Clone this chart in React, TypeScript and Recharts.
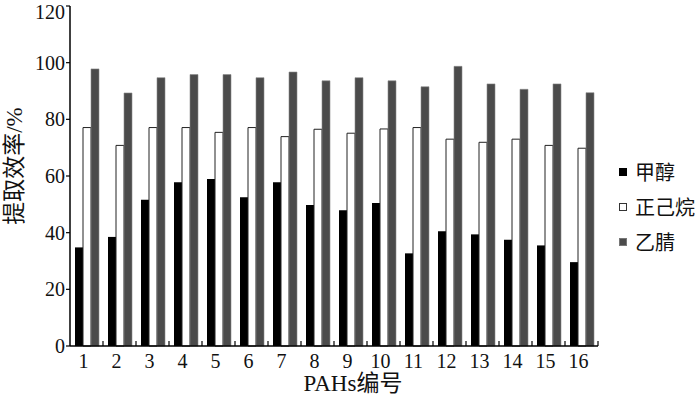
import { BarChart, Bar, XAxis, YAxis, Label } from 'recharts'

const pahs = ['1', '2', '3', '4', '5', '6', '7', '8', '9', '10', '11', '12', '13', '14', '15', '16']
const seriesNames = ['甲醇', '正己烷', '乙腈']
const methanol = [34.8, 38.5, 51.6, 57.8, 58.9, 52.5, 57.8, 49.8, 47.9, 50.5, 32.7, 40.5, 39.4, 37.5, 35.5, 29.6]
const hexane = [77.1, 70.8, 77.1, 77.1, 75.4, 77.1, 73.9, 76.5, 75.1, 76.6, 77.1, 73.0, 71.9, 73.0, 70.8, 69.8]
const acetonitrile = [97.8, 89.3, 94.7, 95.8, 95.8, 94.7, 96.7, 93.6, 94.7, 93.6, 91.5, 98.7, 92.5, 90.6, 92.5, 89.4]
const yTicks = [0, 20, 40, 60, 80, 100, 120]

const data = pahs.map((name, i) => ({
  name,
  methanol: methanol[i],
  hexane: hexane[i],
  acetonitrile: acetonitrile[i],
}))

const FONT = '"Liberation Serif", "Noto Sans CJK SC", serif'

const series = [
  { key: 'methanol', fill: '#000', stroke: '#000' },
  { key: 'hexane', fill: '#fff', stroke: '#333' },
  { key: 'acetonitrile', fill: '#4b4b4b', stroke: '#777' },
]

// category label plus a short inward tick at the right edge of each category
function CategoryTick(props: any) {
  const { x, y, payload, width } = props
  const band = width / pahs.length
  return (
    <g>
      <line x1={x + band / 2} x2={x + band / 2} y1={y} y2={y - 5} stroke="#000" strokeWidth={1.2} />
      <text x={x - 3} y={y} dy={22} textAnchor="middle" fontSize={20} fontFamily={FONT} fill="#111">
        {payload.value}
      </text>
    </g>
  )
}

// the top label sits a little lower so it is not cut at the edge
function ValueTick(props: any) {
  const { x, y, payload } = props
  return (
    <text
      x={x}
      y={Math.max(y, 12)}
      textAnchor="end"
      dominantBaseline="central"
      fontSize={20}
      fontFamily={FONT}
      fill="#111"
    >
      {payload.value}
    </text>
  )
}

export default function App() {
  return (
    <div style={{ position: 'absolute', left: 0, top: 0, width: 700, height: 395 }}>
      <BarChart
        width={700}
        height={395}
        data={data}
        margin={{ top: 6, right: 102, bottom: 0, left: 10 }}
        barGap={0}
        barSize={8}
      >
        <XAxis
          dataKey="name"
          height={49}
          tickLine={false}
          tickSize={0}
          tickMargin={0}
          interval={0}
          axisLine={{ stroke: '#000', strokeWidth: 1.5 }}
          tick={<CategoryTick />}
        >
          <Label
            content={({ viewBox }: any) => (
              <text
                x={viewBox.x + viewBox.width / 2 + 19}
                y={viewBox.y + viewBox.height - 4}
                textAnchor="middle"
                fontFamily={FONT}
                fontSize={23}
                fill="#111"
              >
                PAHs编号
              </text>
            )}
          />
        </XAxis>
        <YAxis
          width={60}
          domain={[0, 120]}
          ticks={yTicks}
          interval={0}
          tickSize={4}
          tickMargin={1}
          axisLine={{ stroke: '#000', strokeWidth: 1.5 }}
          tickLine={{ stroke: '#000', strokeWidth: 1.2 }}
          tick={<ValueTick />}
        >
          <Label
            content={({ viewBox }: any) => {
              const cx = 14
              const cy = viewBox.y + viewBox.height / 2 - 10
              return (
                <text
                  x={cx}
                  y={cy}
                  transform={`rotate(-90 ${cx} ${cy})`}
                  textAnchor="middle"
                  dominantBaseline="central"
                  fontFamily={FONT}
                  fontSize={23}
                  fill="#111"
                >
                  提取效率/%
                </text>
              )
            }}
          />
        </YAxis>
        <Bar dataKey="methanol" name={seriesNames[0]} fill="#000" isAnimationActive={false} />
        <Bar dataKey="hexane" name={seriesNames[1]} fill="#fff" stroke="#222" strokeWidth={1} isAnimationActive={false} />
        <Bar dataKey="acetonitrile" name={seriesNames[2]} fill="#4b4b4b" stroke="#8a8a8a" strokeWidth={0.6} isAnimationActive={false} />
      </BarChart>
      <div style={{ position: 'absolute', left: 619, top: 154, fontFamily: FONT, fontSize: 20, color: '#111' }}>
        {series.map((s, i) => (
          <div key={s.key} style={{ display: 'flex', alignItems: 'center', height: 35 }}>
            <span
              style={{
                display: 'inline-block',
                width: 6,
                height: 6,
                background: s.fill,
                border: `1px solid ${s.stroke}`,
                marginRight: 8,
              }}
            />
            <span>{seriesNames[i]}</span>
          </div>
        ))}
      </div>
    </div>
  )
}
